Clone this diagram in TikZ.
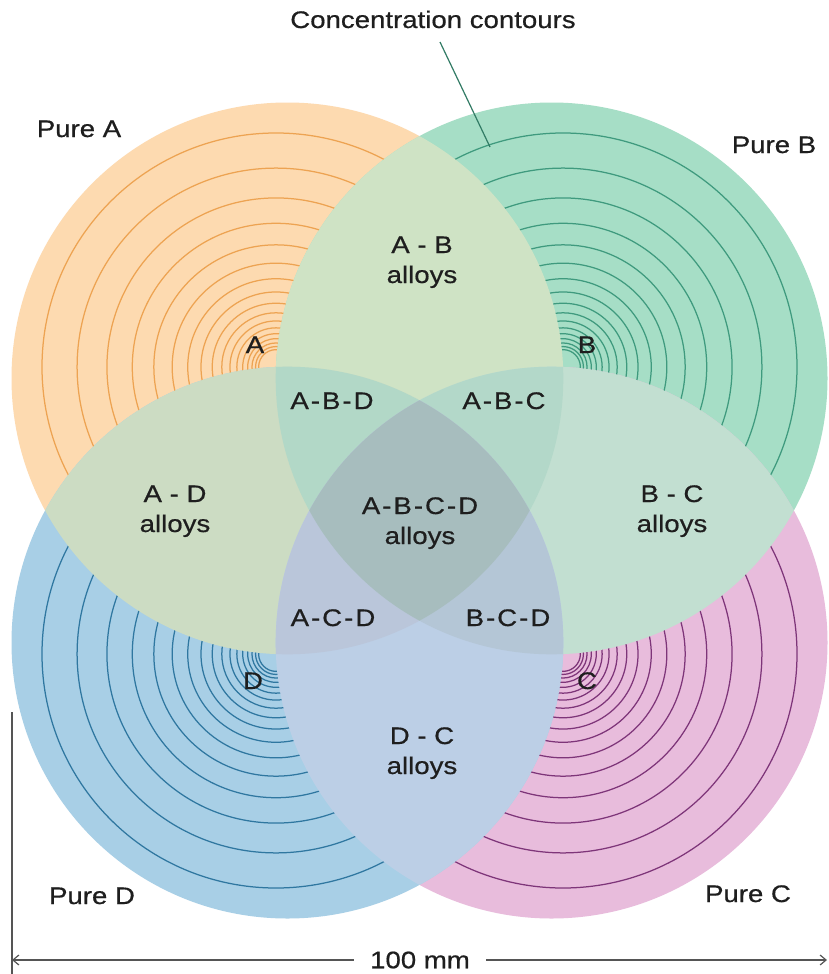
\documentclass[tikz,border=0pt]{standalone}
\usepackage{fontspec}
\setmainfont{Liberation Sans}[FakeStretch=1.15,FakeBold=0.6]
\usetikzlibrary{arrows.meta}
\definecolor{cA}{HTML}{FDDAB0}
\definecolor{cB}{HTML}{A6DEC6}
\definecolor{cC}{HTML}{E8BCDC}
\definecolor{cD}{HTML}{A8CFE6}
\definecolor{lA}{HTML}{EDA352}
\definecolor{lB}{HTML}{3F9A7E}
\definecolor{lC}{HTML}{7E3579}
\definecolor{lD}{HTML}{2F77A0}
\definecolor{cAB}{HTML}{CFE3C5}
\definecolor{cAD}{HTML}{CCDCC3}
\definecolor{cBC}{HTML}{C2DFD1}
\definecolor{cDC}{HTML}{BCCFE6}
\definecolor{cABD}{HTML}{B2D8C7}
\definecolor{cABC}{HTML}{B3D8C9}
\definecolor{cACD}{HTML}{BAC6DA}
\definecolor{cBCD}{HTML}{B4C6D6}
\definecolor{cABCD}{HTML}{A7BDBE}
\definecolor{txt}{HTML}{1E1E1E}
\definecolor{dimc}{HTML}{555555}
\begin{document}
\begin{tikzpicture}[x=1pt,y=-1pt,
  lbl/.style={font=\fontsize{24}{30}\selectfont, text=txt, anchor=base, inner sep=0pt},
  contour/.style={line width=1.25pt}]
\useasboundingbox[fill=white] (0,0) rectangle (828,974);
\def\R{275.9}
\coordinate (oA) at (287.4,378.4);
\coordinate (oB) at (551.6,378.4);
\coordinate (oC) at (551.6,642.6);
\coordinate (oD) at (287.4,642.6);
\coordinate (kA) at (276,367);
\coordinate (kB) at (563,367);
\coordinate (kC) at (563,654);
\coordinate (kD) at (276,654);
% base discs
\fill[cA] (oA) circle[radius=\R];
\fill[cB] (oB) circle[radius=\R];
\fill[cC] (oC) circle[radius=\R];
\fill[cD] (oD) circle[radius=\R];
% concentration contours
\foreach \o/\k/\c in {oA/kA/lA, oB/kB/lB, oC/kC/lC, oD/kD/lD}{
  \begin{scope}
    \clip (\o) circle[radius=\R];
    \foreach \i in {0,...,16}{
      \pgfmathsetmacro\rr{234*0.85^\i}
      \draw[contour, draw=\c] (\k) circle[radius=\rr];
    }
  \end{scope}
}
% binary regions
\begin{scope}\clip (oA) circle[radius=\R]; \fill[cAB] (oB) circle[radius=\R];\end{scope}
\begin{scope}\clip (oA) circle[radius=\R]; \fill[cAD] (oD) circle[radius=\R];\end{scope}
\begin{scope}\clip (oB) circle[radius=\R]; \fill[cBC] (oC) circle[radius=\R];\end{scope}
\begin{scope}\clip (oD) circle[radius=\R]; \fill[cDC] (oC) circle[radius=\R];\end{scope}
% ternary regions
\begin{scope}\clip (oA) circle[radius=\R]; \clip (oB) circle[radius=\R]; \fill[cABD] (oD) circle[radius=\R];\end{scope}
\begin{scope}\clip (oA) circle[radius=\R]; \clip (oB) circle[radius=\R]; \fill[cABC] (oC) circle[radius=\R];\end{scope}
\begin{scope}\clip (oA) circle[radius=\R]; \clip (oD) circle[radius=\R]; \fill[cACD] (oC) circle[radius=\R];\end{scope}
\begin{scope}\clip (oB) circle[radius=\R]; \clip (oC) circle[radius=\R]; \fill[cBCD] (oD) circle[radius=\R];\end{scope}
% quaternary region
\begin{scope}\clip (oA) circle[radius=\R]; \clip (oB) circle[radius=\R]; \clip (oC) circle[radius=\R]; \fill[cABCD] (oD) circle[radius=\R];\end{scope}
% labels
\node[lbl] (cc) at (433,28) {Concentration contours};
\coordinate (lead1) at (440,42);
\coordinate (lead2) at (490,147);
\draw[line width=1.2pt, draw=lB!80!black] (lead1) -- (lead2);
\node[lbl] (pa) at (79,137) {Pure A};
\node[lbl] (pb) at (774,153) {Pure B};
\node[lbl] (pd) at (92,904) {Pure D};
\node[lbl] (pc) at (748,902) {Pure C};
\node[lbl] (la) at (255,353) {A};
\node[lbl] (lb) at (587,353) {B};
\node[lbl] (lc) at (587,689) {C};
\node[lbl] (ld) at (253,689) {D};
\node[lbl] (ab1) at (422,253) {A - B};
\node[lbl] (ab2) at (422,283) {alloys};
\node[lbl] (ad1) at (175,502) {A - D};
\node[lbl] (ad2) at (175,532) {alloys};
\node[lbl] (bc1) at (672,502) {B - C};
\node[lbl] (bc2) at (672,532) {alloys};
\node[lbl] (dc1) at (422,744) {D - C};
\node[lbl] (dc2) at (422,774) {alloys};
\node[lbl] (q1) at (420,514) {A\kern2pt-\kern2ptB\kern2pt-\kern2ptC\kern2pt-\kern2ptD};
\node[lbl] (q2) at (420,544) {alloys};
\node[lbl] (abd) at (332,409) {A\kern2pt-\kern2ptB\kern2pt-\kern2ptD};
\node[lbl] (abc) at (504,409) {A\kern2pt-\kern2ptB\kern2pt-\kern2ptC};
\node[lbl] (acd) at (333,626) {A\kern2pt-\kern2ptC\kern2pt-\kern2ptD};
\node[lbl] (bcd) at (508,626) {B\kern2pt-\kern2ptC\kern2pt-\kern2ptD};
% dimension
\coordinate (dimL) at (12,960);
\coordinate (dimR) at (827,960);
\coordinate (tickTop) at (12,712);
\coordinate (tickBot) at (12,974);
\node[lbl, anchor=center, inner xsep=16pt] (dim) at (420,960) {100 mm};
\draw[dimc, line width=1.2pt] (tickTop) -- (tickBot);
\draw[dimc, line width=1.2pt, -{Straight Barb[length=6pt,width=10pt]}] (dim.west) -- (dimL);
\draw[dimc, line width=1.2pt, -{Straight Barb[length=6pt,width=10pt]}] (dim.east) -- (dimR);
\end{tikzpicture}
\end{document}
